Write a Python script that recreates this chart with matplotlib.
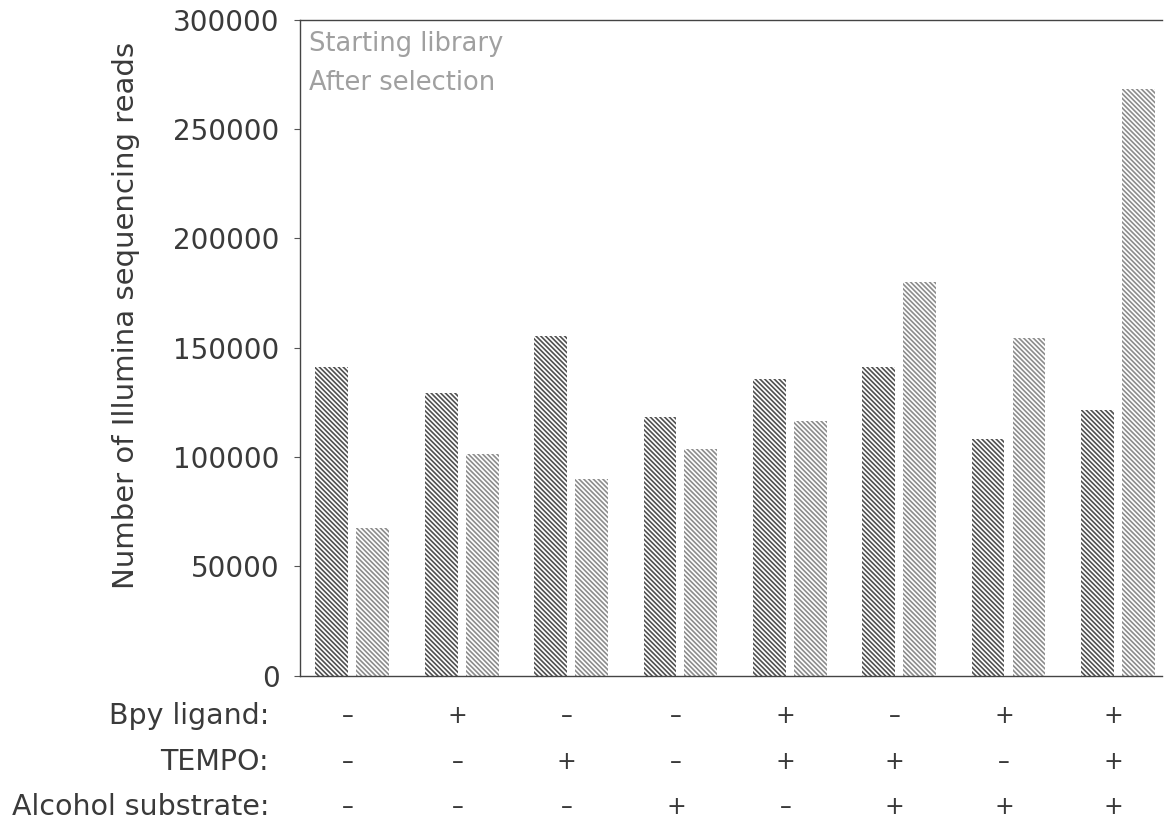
import numpy as np
import matplotlib.pyplot as plt
import matplotlib.transforms as mtransforms

plt.rcParams['font.family'] = ['DejaVu Sans']
plt.rcParams['hatch.linewidth'] = 1.2

# reads per condition
starting_library = [141000, 129500, 155500, 118500, 135800, 141300, 108400, 121600]
after_selection = [67700, 101500, 90100, 103800, 116600, 180200, 154600, 268500]

# condition table under the bars
row_labels = ['Bpy ligand:', 'TEMPO:', 'Alcohol substrate:']
bpy = ['–', '+', '–', '–', '+', '–', '+', '+']
tempo = ['–', '–', '+', '–', '+', '+', '–', '+']
alcohol = ['–', '–', '–', '+', '–', '+', '+', '+']

yticks = [0, 50000, 100000, 150000, 200000, 250000, 300000]

fig = plt.figure(figsize=(11.64, 8.26), dpi=100)
ax = fig.add_axes([0.258, 0.182, 0.740, 0.794])

x = np.arange(len(starting_library))
w = 0.30
off = 0.187
b1 = ax.bar(x - off, starting_library, w, color='white', edgecolor='#505050',
            hatch='\\' * 7, linewidth=0, label='Starting library')
b2 = ax.bar(x + off, after_selection, w, color='white', edgecolor='#8c8c8c',
            hatch='\\' * 7, linewidth=0, label='After selection')

ax.set_xlim(-0.475, 7.40)
ax.set_ylim(0, 300000)
ax.set_yticks(yticks)
ax.set_yticklabels([str(v) for v in yticks], fontsize=20, color='#3a3a3a')
ax.set_xticks([])
ax.tick_params(axis='y', length=4, width=0.8, color='#555555', pad=11)
ax.set_ylabel('Number of Illumina sequencing reads', fontsize=21,
              color='#3a3a3a')
ax.yaxis.set_label_coords(-0.186, 0.549)

for side in ['top', 'left', 'bottom']:
    ax.spines[side].set_linestyle((0, (1, 1)))
    ax.spines[side].set_linewidth(1.0)
    ax.spines[side].set_color('#444444')
ax.spines['right'].set_visible(False)

leg = ax.legend(handles=[b1, b2], loc='upper left', frameon=False,
                handlelength=0, handletextpad=0, fontsize=18.5,
                labelcolor='#a0a0a0', borderaxespad=0.0, labelspacing=0.5,
                borderpad=0.45, bbox_to_anchor=(-0.003, 1.0))
for h in leg.legend_handles:
    h.set_visible(False)

# condition rows
trans = mtransforms.blended_transform_factory(ax.transData, fig.transFigure)
row_y = [1 - 716 / 826, 1 - 762 / 826, 1 - 807 / 826]
for label, signs, yy in zip(row_labels, [bpy, tempo, alcohol], row_y):
    fig.text(269 / 1164, yy, label, ha='right', va='center', fontsize=20.5,
             color='#3a3a3a')
    for xi, s in zip(x, signs):
        ax.text(xi - 0.04, yy, s, transform=trans, ha='center', va='center',
                fontsize=17, color='#3a3a3a', clip_on=False)

fig.savefig('out.png', dpi=100)
plt.close(fig)
